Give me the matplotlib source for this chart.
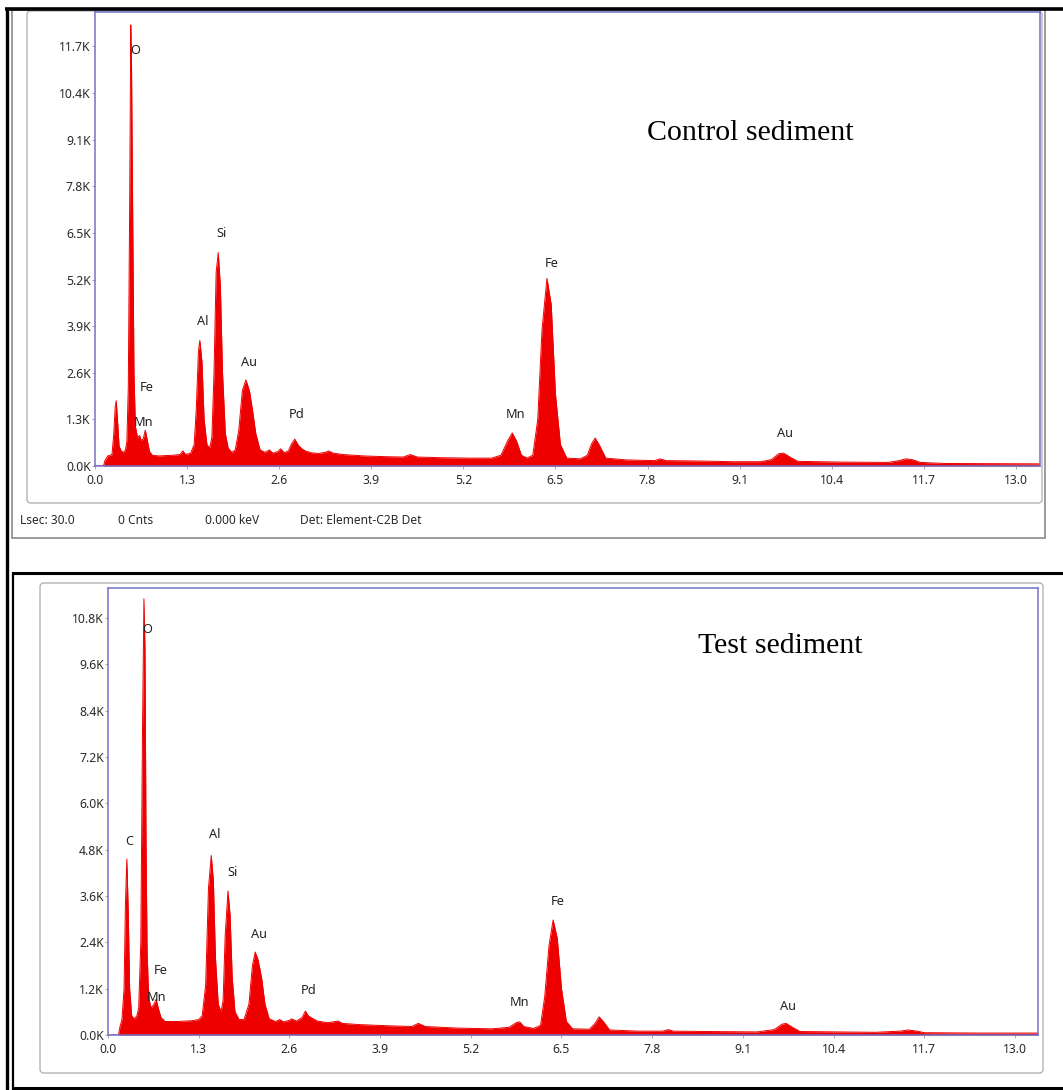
import matplotlib
matplotlib.use("Agg")
import matplotlib.pyplot as plt
from matplotlib.patches import FancyBboxPatch, Rectangle
from matplotlib.ticker import FixedLocator, FuncFormatter

# ---------------- spectra (energy in keV, counts in thousands) ----------------
control_kev = [0.00, 0.12, 0.14, 0.18, 0.24, 0.265, 0.285, 0.30, 0.32, 0.34, 0.37, 0.40, 0.43,
               0.45, 0.47, 0.49, 0.505, 0.515, 0.53, 0.55, 0.57, 0.60, 0.63, 0.65, 0.68, 0.71,
               0.74, 0.77, 0.81, 0.90, 1.00, 1.10, 1.20, 1.24, 1.28, 1.35, 1.40, 1.43, 1.46,
               1.48, 1.51, 1.54, 1.58, 1.62, 1.65, 1.68, 1.71, 1.74, 1.77, 1.80, 1.84, 1.88,
               1.93, 1.98, 2.03, 2.08, 2.13, 2.18, 2.22, 2.27, 2.33, 2.40, 2.46, 2.51, 2.58,
               2.62, 2.67, 2.73, 2.77, 2.82, 2.87, 2.92, 2.97, 3.05, 3.15, 3.25, 3.30, 3.36,
               3.50, 3.80, 4.10, 4.35, 4.45, 4.55, 4.90, 5.30, 5.60, 5.73, 5.83, 5.89, 5.95,
               6.02, 6.10, 6.18, 6.25, 6.31, 6.38, 6.44, 6.50, 6.57, 6.66, 6.85, 6.95, 7.01,
               7.06, 7.12, 7.21, 7.50, 7.90, 7.98, 8.06, 8.50, 9.00, 9.40, 9.55, 9.65, 9.72,
               9.81, 9.92, 10.50, 11.20, 11.35, 11.45, 11.55, 11.65, 12.00, 13.33]
control_counts = [0.0, 0.0, 0.15, 0.28, 0.32, 0.9, 1.65, 1.82, 1.2, 0.55, 0.42, 0.38, 0.45,
                  0.7, 2.2, 7.5, 12.3, 11.3, 7.5, 2.6, 1.1, 0.8, 0.85, 0.72, 0.75, 1.0,
                  0.7, 0.4, 0.3, 0.28, 0.29, 0.30, 0.32, 0.42, 0.32, 0.36, 0.6, 1.6, 3.2,
                  3.5, 2.9, 1.3, 0.6, 0.5, 0.8, 2.6, 5.4, 5.95, 5.0, 2.6, 0.9, 0.5,
                  0.38, 0.45, 1.0, 2.1, 2.4, 2.1, 1.6, 0.9, 0.45, 0.38, 0.45, 0.36, 0.40,
                  0.48, 0.37, 0.42, 0.6, 0.75, 0.58, 0.48, 0.42, 0.37, 0.35, 0.38, 0.42, 0.36,
                  0.32, 0.28, 0.26, 0.25, 0.32, 0.25, 0.23, 0.22, 0.22, 0.30, 0.72, 0.92, 0.7,
                  0.30, 0.22, 0.30, 1.3, 3.8, 5.23, 4.5, 2.0, 0.6, 0.22, 0.20, 0.30, 0.62,
                  0.78, 0.58, 0.22, 0.17, 0.15, 0.20, 0.15, 0.14, 0.12, 0.12, 0.18, 0.34, 0.36,
                  0.25, 0.13, 0.11, 0.10, 0.15, 0.20, 0.17, 0.10, 0.07, 0.06]

test_kev = [0.00, 0.15, 0.17, 0.20, 0.23, 0.25, 0.27, 0.29, 0.31, 0.34, 0.37, 0.41, 0.44,
            0.47, 0.495, 0.515, 0.53, 0.545, 0.56, 0.575, 0.59, 0.62, 0.66, 0.69, 0.72, 0.76,
            0.82, 1.00, 1.20, 1.30, 1.35, 1.40, 1.44, 1.48, 1.51, 1.54, 1.58, 1.62, 1.65,
            1.68, 1.72, 1.75, 1.78, 1.82, 1.88, 1.95, 2.02, 2.07, 2.11, 2.15, 2.20, 2.25,
            2.31, 2.40, 2.46, 2.52, 2.60, 2.63, 2.70, 2.78, 2.83, 2.87, 2.94, 3.00, 3.15,
            3.30, 3.36, 3.60, 4.00, 4.35, 4.45, 4.55, 5.00, 5.50, 5.75, 5.85, 5.90, 5.96,
            6.10, 6.20, 6.26, 6.32, 6.38, 6.44, 6.50, 6.57, 6.66, 6.90, 6.98, 7.04, 7.10,
            7.19, 7.60, 7.95, 8.03, 8.10, 8.60, 9.30, 9.55, 9.66, 9.72, 9.81, 9.92, 11.00,
            11.35, 11.47, 11.60, 11.70, 12.50, 13.33]
test_counts = [0.0, 0.0, 0.2, 0.4, 1.2, 3.4, 4.56, 3.2, 1.2, 0.5, 0.42, 0.48, 0.7,
               2.4, 8.0, 11.3, 10.0, 5.0, 2.2, 1.37, 0.9, 0.7, 0.8, 0.93, 0.7, 0.45,
               0.35, 0.35, 0.37, 0.40, 0.5, 1.3, 3.8, 4.65, 4.0, 2.0, 0.8, 0.6, 0.9,
               2.6, 3.73, 3.1, 1.5, 0.6, 0.4, 0.4, 0.8, 1.8, 2.15, 1.95, 1.5, 0.8,
               0.42, 0.35, 0.40, 0.34, 0.38, 0.42, 0.36, 0.45, 0.62, 0.5, 0.42, 0.36, 0.32,
               0.36, 0.30, 0.27, 0.24, 0.22, 0.30, 0.22, 0.18, 0.16, 0.20, 0.32, 0.34, 0.22,
               0.17, 0.25, 1.0, 2.3, 2.98, 2.5, 1.2, 0.35, 0.16, 0.15, 0.30, 0.47, 0.35,
               0.13, 0.10, 0.10, 0.14, 0.10, 0.09, 0.08, 0.14, 0.28, 0.30, 0.20, 0.09, 0.07,
               0.10, 0.13, 0.10, 0.06, 0.05, 0.05]

# element labels: (text, keV, thousands of counts)
control_labels = [("O", 0.565, 11.6), ("Fe", 0.73, 2.2), ("Mn", 0.68, 1.2), ("Al", 1.52, 4.03),
                  ("Si", 1.78, 6.49), ("Au", 2.17, 2.9), ("Pd", 2.85, 1.45), ("Mn", 5.94, 1.43),
                  ("Fe", 6.44, 5.65), ("Au", 9.74, 0.92)]
test_labels = [("C", 0.30, 5.0), ("O", 0.56, 10.5), ("Fe", 0.75, 1.68), ("Mn", 0.69, 0.96),
               ("Al", 1.53, 5.2), ("Si", 1.79, 4.22), ("Au", 2.16, 2.6), ("Pd", 2.88, 1.14),
               ("Mn", 5.90, 0.83), ("Fe", 6.45, 3.45), ("Au", 9.75, 0.75)]

x_ticks = [0.0, 1.3, 2.6, 3.9, 5.2, 6.5, 7.8, 9.1, 10.4, 11.7, 13.0]
control_y_ticks = [0.0, 1.3, 2.6, 3.9, 5.2, 6.5, 7.8, 9.1, 10.4, 11.7]
test_y_ticks = [0.0, 1.2, 2.4, 3.6, 4.8, 6.0, 7.2, 8.4, 9.6, 10.8]

status_items = [("Lsec: 30.0", 20), ("0 Cnts", 118), ("0.000 keV", 205),
                ("Det: Element-C2B Det", 300)]

# ---------------- figure ----------------
W, H = 1063, 1090
fig = plt.figure(figsize=(W / 100, H / 100), dpi=100)
fig.patch.set_facecolor("white")

UI_FONT = ["Noto Sans", "DejaVu Sans"]
SPEC_RED = "#ee0000"
FRAME_BLUE = "#7272c8"

bg = fig.add_axes([0, 0, 1, 1])
bg.set_xlim(0, W)
bg.set_ylim(H, 0)
bg.axis("off")


def rect_px(l, t, r, b):
    return [l / W, 1 - b / H, (r - l) / W, (b - t) / H]


def hline(y, x0, x1, lw, color):
    bg.plot([x0, x1], [y, y], color=color, lw=lw, solid_capstyle="butt")


def vline(x, y0, y1, lw, color):
    bg.plot([x, x], [y0, y1], color=color, lw=lw, solid_capstyle="butt")


# window frames
bg.add_patch(Rectangle((12, 10), 1045 - 12, 538 - 10, fill=False, ec="#8a8a8a", lw=1.2))
bg.add_patch(FancyBboxPatch((27, 11), 1042 - 27, 503 - 11, boxstyle="round,pad=0,rounding_size=4",
                            fill=False, ec="#b4b4b4", lw=1.0))
bg.add_patch(FancyBboxPatch((40, 583), 1043 - 40, 1073 - 583, boxstyle="round,pad=0,rounding_size=4",
                            fill=False, ec="#b4b4b4", lw=1.0))

# black outlines
vline(6.5, 8, H, 2.4, "black")
hline(9, 5, W, 2.6, "black")
hline(573, 12, W, 2.2, "black")
vline(13, 572, H, 1.6, "black")
hline(1088, 12, W, 2.2, "black")

for text, x in status_items:
    bg.text(x, 521, text, fontsize=8.6, family=UI_FONT, color="#2a2a2a",
            ha="left", va="center")


def spectrum_panel(rect, kev, counts, y_ticks, y_top, x_right, labels, title, title_xy):
    ax = fig.add_axes(rect_px(*rect))
    ax.set_facecolor("none")
    ax.fill_between(kev, counts, 0, color=SPEC_RED, lw=0)
    ax.plot(kev, counts, color=SPEC_RED, lw=0.7)
    ax.set_xlim(0, x_right)
    ax.set_ylim(0, y_top)
    ax.xaxis.set_major_locator(FixedLocator(x_ticks))
    ax.yaxis.set_major_locator(FixedLocator(y_ticks))
    ax.xaxis.set_major_formatter(FuncFormatter(lambda v, p: f"{v:.1f}"))
    ax.yaxis.set_major_formatter(FuncFormatter(lambda v, p: f"{v:.1f}K"))
    for s in ax.spines.values():
        s.set_color(FRAME_BLUE)
        s.set_linewidth(1.1)
    ax.tick_params(axis="both", length=2, width=0.6, color="#9a9a9a",
                   labelsize=8.8, labelcolor="#2a2a2a")
    ax.tick_params(axis="x", pad=4)
    ax.tick_params(axis="y", pad=1)
    for lbl in ax.get_xticklabels() + ax.get_yticklabels():
        lbl.set_family(UI_FONT)
    for name, x, y in labels:
        ax.text(x, y, name, fontsize=9.2, family=UI_FONT, color="#222222",
                ha="center", va="center")
    bg.text(title_xy[0], title_xy[1], title, fontsize=21.5, family="Liberation Serif",
            color="black", ha="center", va="center")
    return ax


spectrum_panel((95, 12, 1040, 466), control_kev, control_counts, control_y_ticks,
               12.66, 13.34, control_labels, "Control sediment", (750, 133))
spectrum_panel((108, 588, 1038, 1035), test_kev, test_counts, test_y_ticks,
               11.58, 13.33, test_labels, "Test sediment", (780, 646))

fig.savefig("out.png", dpi=100, facecolor="white")
